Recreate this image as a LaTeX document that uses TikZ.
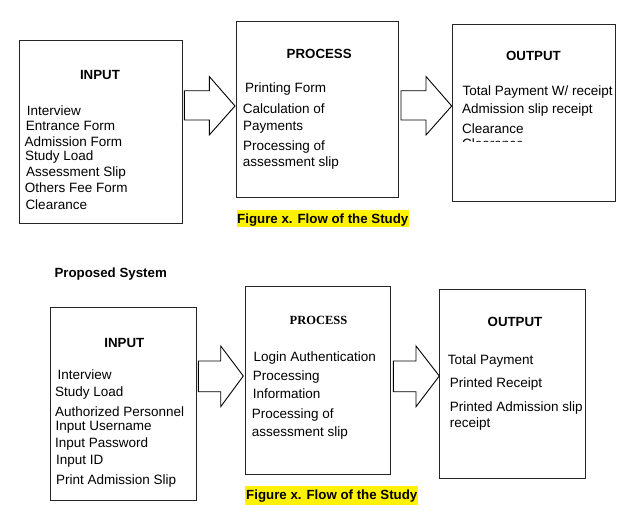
\documentclass[tikz,border=0pt]{standalone}
\usepackage{fontspec}
\setmainfont{Liberation Sans}
\newfontfamily\serifbold{Liberation Serif}
\begin{document}
\begin{tikzpicture}[x=1pt,y=-1pt,
  box/.style={draw=black!85,line width=0.9pt,inner sep=0pt,fill=none},
  item/.style={anchor=base west,inner sep=0pt,font=\fontsize{13.5}{16}\selectfont},
  ttl/.style={anchor=base,inner sep=0pt,font=\fontsize{13.3}{16}\selectfont\bfseries},
  captxt/.style={anchor=base west,inner sep=0pt,font=\fontsize{13.3}{16}\selectfont\bfseries},
  hl/.style={fill=yellow,draw=none},
  blockarrow/.style={draw=black,line width=0.9pt,fill=white,line join=miter}]
\useasboundingbox (0,0) rectangle (632,522);

% ---------- top row ----------
\node[box,minimum width=163.4pt,minimum height=182.6pt] (in1) at (101,132) {};
\node[box,minimum width=162.3pt,minimum height=176pt] (pr1) at (317.2,109.7) {};
\node[box,minimum width=163pt,minimum height=177.7pt] (ou1) at (533.8,112.9) {};

\node[ttl] (in1t) at (100,79.3) {INPUT};
\node[item] (in1a) at (26.7,115.7) {Interview};
\node[item] (in1b) at (25.7,130.7) {Entrance Form};
\node[item] (in1c) at (24.3,146) {Admission Form};
\node[item] (in1d) at (25,160.7) {Study Load};
\node[item] (in1e) at (26,176.7) {Assessment Slip};
\node[item] (in1f) at (24.7,192.3) {Others Fee Form};
\node[item] (in1g) at (25.3,209.3) {Clearance};

\node[ttl] (pr1t) at (319.2,58.7) {PROCESS};
\node[item] (pr1a) at (245,92.7) {Printing Form};
\node[item] (pr1b) at (242.7,113.3) {Calculation of};
\node[item] (pr1c) at (243,130) {Payments};
\node[item] (pr1d) at (243,150.7) {Processing of};
\node[item] (pr1e) at (242.7,166.7) {assessment slip};

\node[ttl] (ou1t) at (533.4,60) {OUTPUT};
\node[item] (ou1a) at (462.3,95.3) {Total Payment W/ receipt};
\node[item] (ou1b) at (462,113.3) {Admission slip receipt};
\node[item] (ou1c) at (462,133.3) {Clearance};
\begin{scope}
  \clip (453,137.5) rectangle (614,141.3);
  \node[item] (ou1d) at (462,148.3) {Clearance};
\end{scope}

\fill[hl] (236.5,209.5) rectangle (409,227);
\node[captxt] (cap1) at (237,223.3) {Figure x. Flow of the Study};

\draw[blockarrow] (184.3,90.7) -- (209.3,90.7) -- (209.3,76.5) -- (235,106) -- (209.3,135)
  -- (209.3,120) -- (184.3,120) -- cycle;
\draw[blockarrow] (401,90.7) -- (426,90.7) -- (426,76.5) -- (451.7,106) -- (426,135)
  -- (426,120) -- (401,120) -- cycle;

% ---------- bottom row ----------
\node[captxt] (prop) at (54.3,277.3) {Proposed System};

\node[box,minimum width=146.7pt,minimum height=192.7pt] (in2) at (123.4,403.7) {};
\node[box,minimum width=145.7pt,minimum height=187.3pt] (pr2) at (317.9,380.4) {};
\node[box,minimum width=146.4pt,minimum height=189pt] (ou2) at (512.5,383.8) {};

\node[ttl] (in2t) at (124.3,347.3) {INPUT};
\node[item] (in2a) at (57.3,379) {Interview};
\node[item] (in2b) at (55,396.7) {Study Load};
\node[item] (in2c) at (55,416) {Authorized Personnel};
\node[item] (in2d) at (55.3,430.7) {Input Username};
\node[item] (in2e) at (55,447.7) {Input Password};
\node[item] (in2f) at (56,464) {Input ID};
\node[item] (in2g) at (56,484) {Print Admission Slip};

\node[anchor=base,inner sep=0pt,font=\fontsize{12.5}{15}\serifbold\bfseries] (pr2t) at (318.5,324) {PROCESS};
\node[item] (pr2a) at (253.3,361) {Login Authentication};
\node[item] (pr2b) at (252.7,380.7) {Processing};
\node[item] (pr2c) at (252.7,398) {Information};
\node[item] (pr2d) at (251.7,418.7) {Processing of};
\node[item] (pr2e) at (251.7,436) {assessment slip};

\node[ttl] (ou2t) at (515,326.7) {OUTPUT};
\node[item] (ou2a) at (447.7,364) {Total Payment};
\node[item] (ou2b) at (449.7,387) {Printed Receipt};
\node[item] (ou2c) at (449.7,411.7) {Printed Admission slip};
\node[item] (ou2d) at (449.7,427.7) {receipt};

\fill[hl] (245,486) rectangle (417.5,505);
\node[captxt] (cap2) at (246,499.8) {Figure x. Flow of the Study};

\draw[blockarrow] (198.3,361) -- (220.7,361) -- (220.7,346) -- (243.3,376) -- (220.7,406.7)
  -- (220.7,391.7) -- (198.3,391.7) -- cycle;
\draw[blockarrow] (393.3,361) -- (416,361) -- (416,346) -- (439.3,376) -- (416,406.7)
  -- (416,391.7) -- (393.3,391.7) -- cycle;
\end{tikzpicture}
\end{document}
